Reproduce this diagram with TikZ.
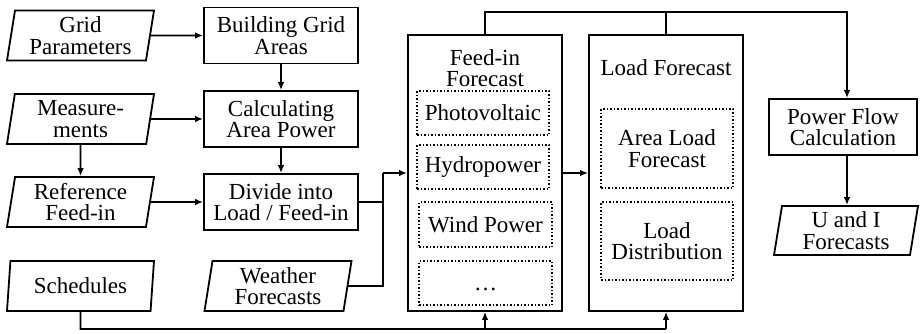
\documentclass[tikz,border=0pt]{standalone}
\usepackage{fontspec}
\setmainfont{Liberation Serif}
\usetikzlibrary{shapes.geometric,arrows.meta}
\begin{document}
\begin{tikzpicture}[x=1pt,y=-1pt,
  every node/.style={font=\fontsize{23}{21.5}\selectfont, inner sep=0pt, align=center},
  proc/.style={draw, line width=1.8pt, minimum width=154pt, minimum height=56pt},
  io/.style={draw, line width=1.8pt, trapezium, trapezium left angle=78, trapezium right angle=102, trapezium stretches body, minimum width=147pt, minimum height=50pt},
  bigbox/.style={draw, line width=1.8pt, minimum width=154pt, minimum height=276pt},
  subbox/.style={draw, dotted, line width=1.5pt, minimum width=132pt, minimum height=44pt},
  conn/.style={line width=1.8pt},
  arr/.style={conn, -{Latex[length=8pt,width=6.5pt]}}]
\useasboundingbox (0,0) rectangle (920,333);
\node[io] (gp) at (80.5,35.5) {Grid\\Parameters};
\node[io] (ms) at (80.5,119) {Measure-\\ments};
\node[io] (rf) at (80.5,202) {Reference\\Feed-in};
\node[io] (sc) at (80.5,286) {Schedules};
\node[proc] (bg) at (281,35.5) {Building Grid\\Areas};
\node[proc] (ca) at (281,119) {Calculating\\Area Power};
\node[proc] (dv) at (281,202) {Divide into\\Load / Feed-in};
\node[io] (wf) at (278,286) {Weather\\Forecasts};
\node[bigbox] (fi) at (485,173) {};
\node[bigbox] (lf) at (666,173) {};
\node (fit) at (485,68) {Feed-in\\Forecast};
\node (lft) at (666,68) {Load Forecast};
\node[subbox] (pv) at (483,113) {Photovoltaic};
\node[subbox] (hy) at (483,167) {Hydropower};
\node[subbox, minimum width=133pt, minimum height=45pt] (wp) at (485.5,224.5) {Wind Power};
\node[subbox, minimum width=133pt] (etc) at (485.5,283) {\raisebox{-7pt}[0pt][0pt]{\ldots}};
\node[subbox, minimum height=79pt] (al) at (667,148.5) {Area Load\\Forecast};
\node[subbox, minimum height=78pt] (ld) at (667,241) {Load\\Distribution};
\node[proc, minimum width=148pt] (pf) at (843,127) {Power Flow\\Calculation};
\node[io, minimum width=144pt, minimum height=49pt] (ui) at (846,230.5) {U and I\\Forecasts};
\coordinate (j) at (383,173);
\coordinate (tr) at (847,12);
\coordinate (bl) at (80.5,329);
\draw[arr] (gp.east) -- (bg.west);
\draw[arr] (ms.east) -- (ca.west);
\draw[arr] (rf.east) -- (dv.west);
\draw[arr] (bg.south) -- (ca.north);
\draw[arr] (ca.south) -- (dv.north);
\draw[arr] (ms.south) -- (rf.north);
\draw[conn] (dv.east) -- (dv.east -| j);
\draw[conn] (wf.east) -| (j);
\draw[arr] (j) -- (fi.west);
\draw[arr] (fi.east) -- (lf.west);
\draw[arr] (fi.north) |- (tr) -- (pf.north -| tr);
\draw[conn] (lf.north) -- (lf.north |- tr);
\draw[arr] (pf.south -| tr) -- (ui.north -| tr);
\draw[conn] (sc.south) -- (bl) -- (lf.south |- bl);
\draw[arr] (fi.south |- bl) -- (fi.south);
\draw[arr] (lf.south |- bl) -- (lf.south);
\end{tikzpicture}
\end{document}
